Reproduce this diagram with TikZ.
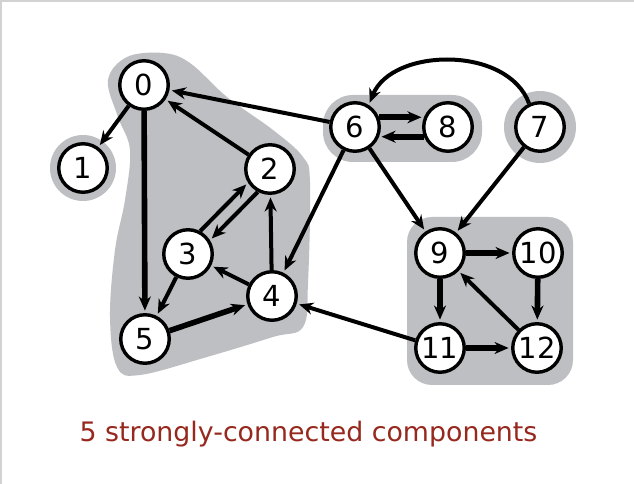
\documentclass[tikz,border=0pt]{standalone}
\usepackage{fontspec}
\setmainfont{DejaVu Sans}
\usetikzlibrary{arrows.meta}
\definecolor{scc}{RGB}{190,191,195}
\definecolor{capred}{RGB}{150,40,30}
\definecolor{framegray}{RGB}{210,210,210}
\begin{document}
\begin{tikzpicture}[x=1pt,y=1pt,
  vtx/.style={circle,draw=black,fill=white,line width=3.4pt,minimum size=48.5pt,inner sep=0pt,font=\fontsize{29}{29}\selectfont},
  edg/.style={line width=4pt,-{Stealth[length=14pt,width=12pt,inset=4.5pt]},shorten >=2.5pt},
  tedg/.style={edg,line width=5.6pt},
  blob/.style={fill=scc,draw=none}]
\useasboundingbox (0,0) rectangle (634,484);
\fill[white] (0,0) rectangle (634,484);
\draw[framegray,line width=2.5pt] (1,0) -- (1,483) -- (634,483);
% strong components
\fill[blob] plot[smooth cycle,tension=0.6] coordinates {
 (108,404) (127,427) (163,431) (190,421) (227,387) (273,354) (303,327)
 (310,301) (308,201) (303,157) (273,147) (207,127) (140,109) (117,117)
 (110,167) (115,234) (125,284) (130,334) (118,367)};
\fill[blob] (83,316) circle (33);
\fill[blob,rounded corners=30pt] (323,322) rectangle (482,389);
\fill[blob] (540,357) circle (36);
\fill[blob,rounded corners=25pt] (407,99) rectangle (573,267);
% vertices
\node[vtx] (v0) at (144,399) {0};
\node[vtx] (v1) at (83,316) {1};
\node[vtx] (v2) at (270,315) {2};
\node[vtx] (v3) at (188,230) {3};
\node[vtx] (v4) at (272,188) {4};
\node[vtx] (v5) at (145,145) {5};
\node[vtx] (v6) at (355,357) {6};
\node[vtx] (v8) at (448,357) {8};
\node[vtx] (v7) at (540,357) {7};
\node[vtx] (v9) at (440,231) {9};
\node[vtx] (v10) at (538,231) {10};
\node[vtx] (v11) at (440,136) {11};
\node[vtx] (v12) at (537,136) {12};
% edges
\draw[edg] (v0) -- (v1);
\draw[tedg] (v0) -- (v5);
\draw[edg] (v2) -- (v0);
\draw[edg] (v6) -- (v0);
\draw[edg] (v3.62) -- (v2.212);
\draw[edg] (v2.242) -- (v3.32);
\draw[edg] (v4) -- (v2);
\draw[edg] (v4) -- (v3);
\draw[edg] (v3) -- (v5);
\draw[tedg] (v5) -- (v4);
\draw[edg] (v6) -- (v4);
\draw[tedg] (v6.22) -- (v8.158);
\draw[tedg] (v8.202) -- (v6.-22);
\draw[edg] (v6) -- (v9);
\draw[edg] (v7) -- (v9);
\draw[edg] (v7.115) .. controls +(110:62) and +(68:62) .. (v6.58);
\draw[tedg] (v9) -- (v10);
\draw[tedg] (v9) -- (v11);
\draw[tedg] (v10) -- (v12);
\draw[edg] (v12) -- (v9);
\draw[tedg] (v11) -- (v12);
\draw[edg] (v11) -- (v4);
% caption
\node[anchor=base,text=capred,font=\fontsize{26.8}{27}\selectfont,inner sep=0pt] (cap) at (308.5,42) {5 strongly-connected components};
\end{tikzpicture}
\end{document}
